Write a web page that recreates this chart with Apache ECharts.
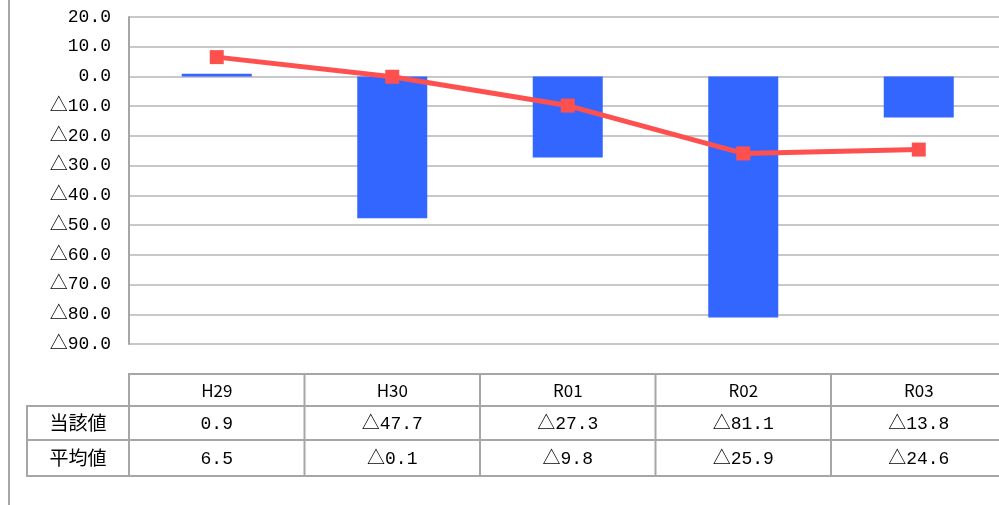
<!DOCTYPE html>
<html><head><meta charset="utf-8">
<script src="https://cdn.jsdelivr.net/npm/echarts@6/dist/echarts.min.js"></script>
<style>html,body{margin:0;padding:0;background:#fff}#c{width:999px;height:505px}</style>
</head><body><div id="c"></div>
<script>
const categories = ['H29','H30','R01','R02','R03'];
const currentValues = [0.9, -47.7, -27.3, -81.1, -13.8];
const averageValues = [6.5, -0.1, -9.8, -25.9, -24.6];
const rowLabels = ['当該値','平均値'];
const yMin = -90, yMax = 20, yStep = 10;

function fmt(v){ return v < 0 ? '△' + Math.abs(v).toFixed(1) : v.toFixed(1); }

const FONT = '"Noto Sans CJK JP", "Noto Sans", sans-serif';
const NUMFONT = '"Liberation Mono", "Noto Sans CJK JP", monospace';
const W = 999;
const plotLeft = 129, plotTop = 17, plotBottom = 344, plotWidth = 877.5;
const colW = plotWidth / categories.length;
const tblTop = 374, rowH = [32, 34, 36], rowLabelLeft = 27;
const borderColor = '#a6a6a6';

const chart = echarts.init(document.getElementById('c'), null, {renderer:'canvas'});

const g = [];
g.push({type:'line', shape:{x1:9,y1:0,x2:9,y2:505}, style:{stroke:borderColor, lineWidth:2}});
let y = tblTop;
const rows = [null, currentValues, averageValues];
for (let r = 0; r < 3; r++) {
  const h = rowH[r];
  const x0 = r === 0 ? plotLeft : rowLabelLeft;
  g.push({type:'rect', shape:{x:x0, y:y, width:W - x0 + 5, height:h}, style:{fill:'none', stroke:borderColor, lineWidth:2}});
  if (r > 0) {
    g.push({type:'line', shape:{x1:plotLeft,y1:y,x2:plotLeft,y2:y+h}, style:{stroke:borderColor,lineWidth:2}});
    g.push({type:'text', x:(rowLabelLeft+plotLeft)/2, y:y+h/2, style:{text:rowLabels[r-1], fill:'#000', font:'19px '+FONT, align:'center', verticalAlign:'middle'}});
  }
  for (let i = 0; i < categories.length; i++) {
    const cx = plotLeft + colW*(i+0.5);
    if (i > 0) g.push({type:'line', shape:{x1:plotLeft+colW*i,y1:y,x2:plotLeft+colW*i,y2:y+h}, style:{stroke:borderColor,lineWidth:2}});
    const txt = r === 0 ? categories[i] : fmt(rows[r][i]);
    const f = r === 0 ? '17px '+FONT : '18px '+NUMFONT;
    g.push({type:'text', x:cx, y:y+h/2+1, style:{text:txt, fill:'#000', font:f, align:'center', verticalAlign:'middle'}});
  }
  y += h;
}

chart.setOption({
  animation:false,
  backgroundColor:'#fff',
  grid:{left:plotLeft, top:plotTop, width:plotWidth, height:plotBottom-plotTop, containLabel:false, outerBoundsMode:'none'},
  xAxis:{type:'category', data:categories, boundaryGap:true,
    axisLine:{show:false}, axisTick:{show:false}, axisLabel:{show:false}, splitLine:{show:false}},
  yAxis:{type:'value', min:yMin, max:yMax, interval:yStep,
    axisLine:{show:true, lineStyle:{color:borderColor, width:2}},
    axisTick:{show:false},
    splitLine:{show:true, lineStyle:{color:'#c8c8c8', width:2}},
    axisLabel:{formatter:fmt, color:'#000', fontSize:18, fontFamily:NUMFONT, margin:18}},
  series:[
    {type:'bar', data:currentValues, barWidth:70, itemStyle:{color:'#3366ff'}, z:2},
    {type:'line', data:averageValues, symbol:'rect', symbolSize:14, lineStyle:{color:'#ff5050', width:5},
     itemStyle:{color:'#ff5050'}, z:3}
  ],
  graphic:g
});
</script></body></html>
